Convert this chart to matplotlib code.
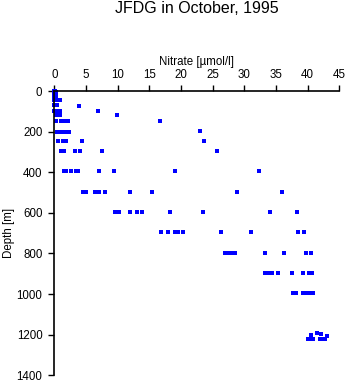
import numpy as np
import matplotlib
matplotlib.use("Agg")
import matplotlib.pyplot as plt

plt.rcParams["font.family"] = ["Liberation Sans", "DejaVu Sans"]

# nitrate profiles, JFDG stations, October 1995
depth = [0, 0, 5, 5, 10, 10, 15, 20, 20, 25, 30, 30, 35,
         45, 45, 45,
         70, 70, 72,
         97, 97, 97, 97,
         120, 120, 120, 120,
         148, 148, 148, 148, 148,
         200, 200, 200, 200, 200, 200, 198,
         248, 248, 248, 248, 248,
         297, 297, 297, 297, 297, 297,
         396, 396, 396, 396, 396, 396, 396, 396, 396,
         496, 496, 496, 496, 496, 496, 496, 496, 496,
         597, 597, 597, 597, 597, 597, 597, 597, 597,
         696, 696, 696, 696, 696, 696, 696, 696, 696,
         798, 798, 798, 798, 798, 798, 798, 798,
         897, 897, 897, 897, 897, 897, 897, 897,
         996, 996, 996, 996, 996, 996,
         1200, 1194, 1199, 1219, 1219, 1219, 1219, 1219, 1219, 1209]
nitrate = [0.0, 0.1, 0.0, 0.2, 0.1, 0.2, 0.0, 0.1, 0.2, 0.0, 0.1, 0.2, 0.1,
           0.0, 0.3, 0.9,
           0.0, 0.5, 3.9,
           0.0, 0.3, 0.9, 6.95,
           0.2, 0.6, 0.9, 9.95,
           0.3, 1.0, 1.6, 2.1, 16.75,
           0.4, 0.8, 1.2, 1.6, 2.0, 2.4, 23.0,
           0.6, 1.3, 1.9, 4.4, 23.7,
           1.0, 1.6, 3.2, 4.05, 7.5, 25.75,
           1.6, 1.9, 2.7, 3.4, 3.7, 7.1, 9.5, 19.0, 32.3,
           4.6, 5.0, 6.5, 7.0, 8.05, 12.0, 15.5, 28.9, 36.0,
           9.6, 10.2, 12.0, 13.0, 13.8, 18.2, 23.5, 34.0, 38.4,
           16.8, 18.0, 19.1, 19.5, 20.3, 26.4, 31.0, 38.5, 39.5,
           27.0, 27.6, 28.0, 28.5, 33.3, 36.2, 39.7, 40.5,
           33.2, 33.9, 34.4, 35.4, 37.5, 39.2, 40.2, 40.7,
           37.7, 38.2, 39.3, 39.8, 40.3, 40.9,
           40.6, 41.5, 42.1, 40.0, 40.5, 40.8, 41.9, 42.3, 42.7, 43.0]

x_ticks = np.arange(0, 46, 5)
y_ticks = np.arange(0, 1401, 200)

fig = plt.figure(figsize=(3.48, 3.84), dpi=100)
ax = fig.add_axes([0.156, 0.0227, 0.819, 0.7403])

ax.plot(nitrate, depth, ls="none", marker="s", ms=2.6, mew=0,
        color="#0000ff", clip_on=False)

ax.set_xlim(0, 45)
ax.set_ylim(1400, 0)
ax.set_xticks(x_ticks)
ax.set_yticks(y_ticks)

ax.xaxis.tick_top()
ax.xaxis.set_label_position("top")
ax.spines["right"].set_visible(False)
ax.spines["bottom"].set_visible(False)
for s in ("top", "left"):
    ax.spines[s].set_linewidth(1.2)
ax.tick_params(axis="both", direction="out", length=4.5, width=1.0,
               labelsize=8.3, pad=2.5)
ax.tick_params(axis="y", pad=4)

ax.set_xlabel("Nitrate [µmol/l]", fontsize=8.3, labelpad=3)
ax.set_ylabel("Depth [m]", fontsize=8.3, labelpad=1)

fig.text(0.565, 0.967, "JFDG in October, 1995", ha="center",
         va="baseline", fontsize=11.5)

fig.savefig("out.png", dpi=100)
